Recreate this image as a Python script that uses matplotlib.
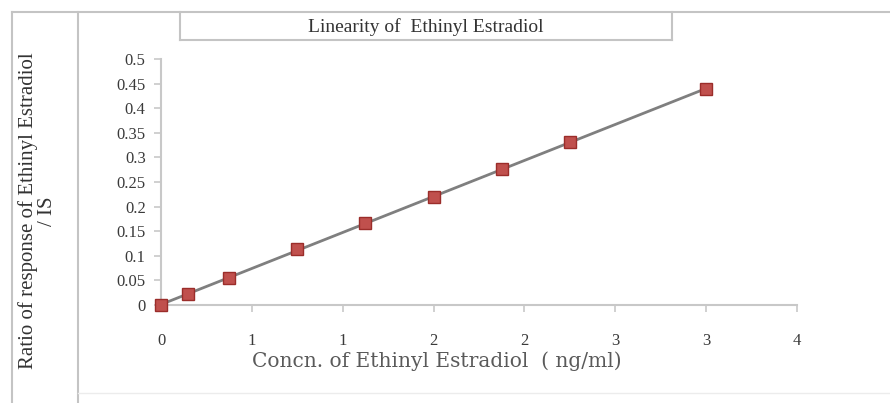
import numpy as np
import matplotlib
matplotlib.use('Agg')
import matplotlib.pyplot as plt
from matplotlib.lines import Line2D
from matplotlib.ticker import FixedLocator, FixedFormatter

# kadar (ng/ml) dan rasio respon terhadap IS
conc = [0, 0.15, 0.375, 0.75, 1.125, 1.5, 1.875, 2.25, 3.0]
ratio = [0, 0.022, 0.055, 0.114, 0.167, 0.219, 0.276, 0.331, 0.439]

x_ticks = [0, 0.5, 1.0, 1.5, 2.0, 2.5, 3.0, 3.5]
x_labels = ['0', '1', '1', '2', '2', '3', '3', '4']
y_ticks = [0, 0.05, 0.1, 0.15, 0.2, 0.25, 0.3, 0.35, 0.4, 0.45, 0.5]
y_labels = ['0', '0.05', '0.1', '0.15', '0.2', '0.25', '0.3', '0.35', '0.4', '0.45', '0.5']

plt.rcParams['font.family'] = ['Liberation Serif', 'DejaVu Serif']

W, H = 890, 403
fig = plt.figure(figsize=(W / 100, H / 100), dpi=100)
fig.patch.set_facecolor('white')

ax = fig.add_axes([161 / W, 1 - 305 / H, (797 - 161) / W, (305 - 59) / H])

# garis tren linear
slope, icpt = np.polyfit(conc, ratio, 1)
xs = np.array([min(conc), max(conc)])
ax.plot(xs, slope * xs + icpt, color='#7f7f7f', lw=2, zorder=2)
ax.plot(conc, ratio, linestyle='none', marker='s', ms=9,
        markerfacecolor='#c0504d', markeredgecolor='#9b2d2a', mew=1, zorder=3,
        clip_on=False)

ax.set_xlim(0, 3.5)
ax.set_ylim(0, 0.5)
ax.xaxis.set_major_locator(FixedLocator(x_ticks))
ax.xaxis.set_major_formatter(FixedFormatter(x_labels))
ax.yaxis.set_major_locator(FixedLocator(y_ticks))
ax.yaxis.set_major_formatter(FixedFormatter(y_labels))

for s in ['top', 'right']:
    ax.spines[s].set_visible(False)
for s in ['left', 'bottom']:
    ax.spines[s].set_color('#c8c8c8')
    ax.spines[s].set_linewidth(1.5)
ax.tick_params(axis='both', colors='#c8c8c8', width=1.2, length=5,
               labelcolor='#3a3a3a', labelsize=12)
ax.tick_params(axis='x', pad=15)
ax.tick_params(axis='y', pad=6)

fig.text(437 / W, 1 - 361 / H, 'Concn. of Ethinyl Estradiol  ( ng/ml)',
         ha='center', va='center', fontsize=14.5, color='#5a5a5a',
         family='DejaVu Serif')
fig.text(38 / W, 1 - 211 / H, 'Ratio of response of Ethinyl Estradiol\n/ IS',
         rotation=90, ha='center', va='center', fontsize=15,
         color='#333333', linespacing=1.0)

# bingkai luar dan kotak judul
gc = '#c4c4c4'
fig.add_artist(Line2D([12 / W, 1], [1 - 12 / H] * 2, color=gc, lw=1.5))
fig.add_artist(Line2D([12 / W] * 2, [0, 1 - 12 / H], color=gc, lw=1.5))
fig.add_artist(Line2D([78 / W] * 2, [0, 1 - 12 / H], color=gc, lw=1.5))
fig.add_artist(Line2D([180 / W] * 2, [1 - 12 / H, 1 - 40 / H], color=gc, lw=1.5))
fig.add_artist(Line2D([672 / W] * 2, [1 - 12 / H, 1 - 40 / H], color=gc, lw=1.5))
fig.add_artist(Line2D([180 / W, 672 / W], [1 - 40 / H] * 2, color=gc, lw=1.5))
fig.add_artist(Line2D([78 / W, 1], [1 - 393 / H] * 2, color='#ececec', lw=1))

fig.text(426 / W, 1 - 27 / H, 'Linearity of  Ethinyl Estradiol',
         ha='center', va='center', fontsize=14, color='#333333')

fig.savefig('out.png', dpi=100, facecolor='white')
